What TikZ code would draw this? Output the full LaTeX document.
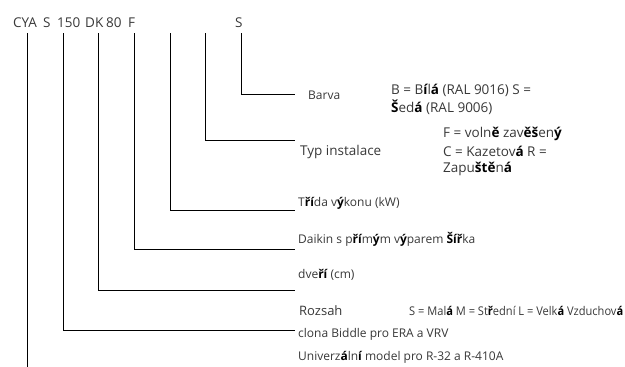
\documentclass[tikz,border=0pt]{standalone}
\usepackage{fontspec}
\setmainfont{Open Sans}
\newcommand\bo[1]{{\bfseries\color{black}#1}}
\newcommand\fwx[2]{\resizebox{#1pt}{\height}{#2}}
\begin{document}
\begin{tikzpicture}[x=1pt,y=-1pt,
  lab/.style={anchor=west,inner sep=0pt,text=black!78,font=\fontsize{12}{14}\selectfont},
  big/.style={lab,font=\fontsize{13.5}{16}\selectfont},
  code/.style={anchor=west,inner sep=0pt,text=black!78,font=\fontsize{13.5}{16}\selectfont},
  conn/.style={line width=0.8pt,black}]
\useasboundingbox (0,0) rectangle (625,367);
% code tokens
\node[code] (c1) at (13,23) {CYA};
\node[code] (c2) at (43,23) {S};
\node[code] (c3) at (57,23) {150};
\node[code] (c4) at (85,23) {DK};
\node[code] (c5) at (106,23) {80};
\node[code] (c6) at (128,23) {F};
\node[code] (c7) at (235,23) {S};
% connector start / end points
\coordinate (s1) at (27,33);  \coordinate (e1) at (27,367);
\coordinate (s2) at (63,33);  \coordinate (e2) at (295,330);
\coordinate (s3) at (98,33);  \coordinate (e3) at (295,290);
\coordinate (s4) at (134,33); \coordinate (e4) at (295,249);
\coordinate (s5) at (170,33); \coordinate (e5) at (295,210);
\coordinate (s6) at (205,33); \coordinate (e6) at (295,140);
\coordinate (s7) at (241,33); \coordinate (e7) at (295,94);
\draw[conn] (s1) -- (e1);
\draw[conn] (s2) |- (e2);
\draw[conn] (s3) |- (e3);
\draw[conn] (s4) |- (e4);
\draw[conn] (s5) |- (e5);
\draw[conn] (s6) |- (e6);
\draw[conn] (s7) |- (e7);
% labels
\node[lab] (barva) at (308,95) {Barva};
\node[big] (bw1) at (391,90) {B = B\bo{í}l\bo{á} (RAL 9016) S =};
\node[big] (bw2) at (391,107) {\bo{Š}ed\bo{á} (RAL 9006)};
\node[big] (typ) at (300,152) {Typ instalace};
\node[big] (f1) at (443,134) {F = voln\bo{ě} zav\bo{ěš}en\bo{ý}};
\node[big] (f2) at (443,151) {C = Kazetov\bo{á} R =};
\node[big] (f3) at (443,169) {Zapu\bo{ště}n\bo{á}};
\node[lab] (trida) at (298,203) {T\bo{ří}da v\bo{ý}konu (kW)};
\node[lab] (daikin) at (298,239) {Daikin s p\bo{ří}m\bo{ý}m v\bo{ý}parem \bo{Šíř}ka};
\node[lab] (dveri) at (298,275) {dve\bo{ří} (cm)};
\node[lab,font=\fontsize{13}{15}\selectfont] (rozsah) at (299,311) {Rozsah};
\node[lab] (rozv) at (409,311) {\fwx{214}{S = Mal\bo{á} M = St\bo{ř}ední L = Velk\bo{á} Vzduchov\bo{á}}};
\node[lab] (clona) at (298,334) {clona Biddle pro ERA a VRV};
\node[lab] (univ) at (298,357) {Univerz\bo{á}ln\bo{í} model pro R-32 a R-410A};
\end{tikzpicture}
\end{document}
